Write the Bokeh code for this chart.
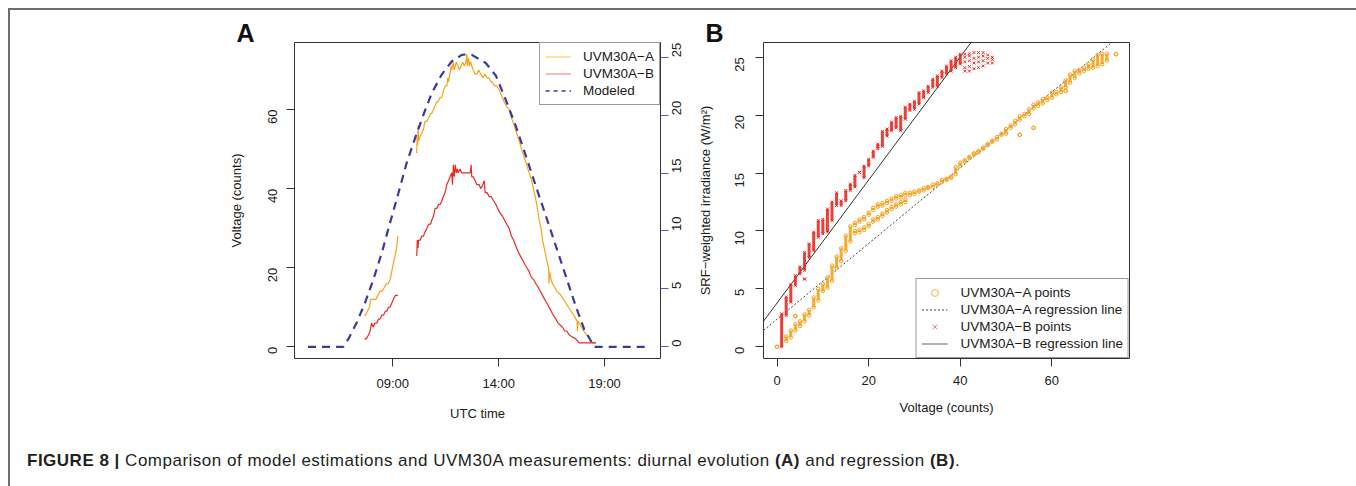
import math
import numpy as np
from bokeh.plotting import figure
from bokeh.models import Range1d, LinearAxis, FixedTicker, Legend, LegendItem, Div, Title
from bokeh.layouts import row, column
from bokeh.embed import file_html
from bokeh.resources import INLINE

FONT = "Liberation Sans"

# ---------------- Panel A data (UTC decimal hours, counts / W m-2) ----------------
a1_t = [7.66, 7.72, 7.80, 7.90, 7.96, 8.08, 8.20, 8.30, 8.40, 8.48, 8.60, 8.70, 8.79, 8.88, 8.95, 9.02, 9.11, 9.18, 9.24]
a1_v = [8, 8, 9, 10, 12, 12, 12, 13, 14, 14, 15, 16, 16, 17, 19, 21, 23, 25, 28]
a2_t = [10.13, 10.15, 10.17, 10.20, 10.22, 10.28, 10.37, 10.45, 10.52, 10.61, 10.70, 10.78, 10.84, 10.92, 11.00,
        11.08, 11.15, 11.22, 11.31, 11.40, 11.48, 11.55, 11.60, 11.63, 11.70, 11.75, 11.79, 11.85, 11.90, 11.95,
        12.00, 12.08, 12.15, 12.22, 12.30, 12.38, 12.45, 12.50, 12.52, 12.58, 12.62, 12.68, 12.73, 12.80, 12.88,
        12.97, 13.05, 13.15, 13.25, 13.35, 13.45, 13.55, 13.62, 13.70, 13.80, 13.90, 14.02, 14.10, 14.18, 14.26,
        14.35, 14.49, 14.60, 14.73, 14.85, 14.97, 15.08, 15.20, 15.32, 15.44, 15.56, 15.68, 15.80, 15.91, 16.00,
        16.07, 16.15, 16.23, 16.30, 16.36, 16.38, 16.40, 16.47, 16.54, 16.65, 16.75, 16.86, 17.00, 17.17, 17.30,
        17.48, 17.60, 17.70, 17.72, 17.74, 17.85, 17.96, 18.08, 18.19, 18.30, 18.43, 18.59]
a2_v = [49, 53, 51, 56, 52, 53, 54, 55, 57, 57, 58, 59, 59, 60, 61,
        62, 62, 63, 63, 65, 66, 66, 68, 67, 69, 71, 70, 72, 70, 71,
        72, 71, 70, 71, 72, 71, 72, 74, 71, 73, 71, 72, 71, 70, 69,
        69, 70, 69, 68, 69, 68, 68, 67, 67, 66, 66, 65, 64, 63, 62,
        61, 60, 58, 56, 54, 52, 50, 48, 46, 44, 42, 39, 36, 32, 30,
        27, 25, 23, 21, 20, 16, 19, 17, 16, 15, 14, 13.5, 12.5, 11, 10,
        8.5, 7.5, 6.5, 4, 6.5, 5.5, 4.5, 3.5, 2.8, 2, 1, 1]

b1_t = [7.66, 7.75, 7.85, 7.93, 8.00, 8.08, 8.15, 8.25, 8.32, 8.40, 8.48, 8.56, 8.65, 8.72, 8.79, 8.87, 8.95, 9.03, 9.12, 9.24]
b1_v = [2, 2, 3, 4, 6, 5, 6, 6, 7, 7, 8, 8, 9, 9, 10, 10, 11, 12, 13, 13]
b2_t = [10.13, 10.16, 10.19, 10.22, 10.30, 10.37, 10.45, 10.52, 10.61, 10.70, 10.78, 10.84, 10.92, 11.00, 11.08,
        11.16, 11.24, 11.32, 11.39, 11.47, 11.55, 11.63, 11.71, 11.78, 11.82, 11.86, 11.90, 11.95, 12.00, 12.05,
        12.10, 12.18, 12.25, 12.34, 12.42, 12.50, 12.58, 12.66, 12.70, 12.73, 12.80, 12.89, 12.97, 13.08, 13.15,
        13.25, 13.32, 13.36, 13.45, 13.55, 13.65, 13.75, 13.87, 13.95, 14.05, 14.18, 14.28, 14.38, 14.49, 14.60,
        14.70, 14.81, 14.92, 15.02, 15.12, 15.22, 15.33, 15.44, 15.55, 15.65, 15.75, 15.87, 15.97, 16.07, 16.17,
        16.28, 16.38, 16.48, 16.58, 16.70, 16.80, 16.90, 17.01, 17.12, 17.22, 17.33, 17.48, 17.64, 17.80, 18.10,
        18.43, 18.59]
b2_v = [23, 27, 25, 27, 27, 28, 28, 29, 30, 31, 31, 32, 33, 35, 35,
        36, 36, 37, 38, 39, 41, 42, 43, 44, 41, 46, 43, 46, 44, 45,
        44, 45, 44, 44, 44, 44, 44, 44, 46, 43, 43, 42, 41, 41, 40,
        41, 42, 39, 39, 38, 38, 37, 36, 35, 34, 33, 32, 31, 30, 28,
        27, 25.5, 24, 23, 22, 21, 20, 19, 17.5, 17, 16, 15, 14, 13, 12,
        11, 10, 9, 8, 7, 6, 5.5, 5, 4, 4, 3, 2.5, 2, 1, 1,
        1, 1]

mod_t = [5.0, 6.67, 6.9, 7.3, 7.69, 8.08, 8.48, 8.87, 9.27, 9.66, 10.05, 10.45, 10.84, 11.31, 11.79, 12.26,
         12.55, 12.73, 13.39, 13.87, 14.34, 14.81, 15.28, 15.75, 16.23, 16.7, 17.17, 17.64, 18.04, 18.51, 21.0]
mod_w = [0, 0, 0.66, 2.1, 3.8, 5.8, 8.1, 10.7, 13.3, 15.9, 18.0, 20.05, 21.9, 23.5, 24.65, 25.2,
         25.26, 25.2, 24.5, 23.4, 21.3, 19.05, 16.5, 13.9, 11.3, 8.7, 6.1, 3.5, 1.5, 0, 0]

time_ticks = [9, 14, 19]
time_labels = ["09:00", "14:00", "19:00"]

# ---------------- Panel B data (count strips: x, low y, high y) ----------------
sa_x = [0, 2, 3, 4, 4, 5, 6, 7, 8, 9, 10, 11, 12, 13, 14, 15, 16,
        17, 18, 19, 20, 21, 22, 23, 24, 25, 26, 27, 28,
        17, 18, 19, 20, 21, 22, 23, 24, 25, 26, 27, 28,
        29, 30, 31, 32, 33, 34, 35, 36, 37, 38, 39, 40, 41, 42, 43, 44, 45, 46, 47, 48, 49, 50,
        51, 52, 53, 53, 54, 55, 56, 56, 57, 58, 59, 60, 61, 62, 63, 63, 64, 65, 66, 67, 68, 69,
        70, 71, 72, 74]
sa_lo = [0, 0.5, 0.8, 1.4, 2.65, 1.8, 2.2, 2.7, 3.4, 4.0, 4.8, 5.1, 5.7, 6.8, 7.4, 8.3, 9.1,
         10.5, 10.8, 11.0, 11.4, 11.8, 12.1, 12.2, 12.4, 12.6, 12.8, 12.9, 13.1,
         9.8, 9.9, 10.1, 10.4, 10.8, 11.0, 11.3, 11.6, 11.9, 12.1, 12.3, 12.5,
         13.1, 13.2, 13.4, 13.5, 13.7, 13.8, 14.0, 14.2, 14.4, 14.6, 14.9, 15.6, 16.0, 16.3, 16.6, 16.8, 17.1,
         17.4, 17.7, 17.9, 18.3, 18.4,
         18.9, 19.2, 19.6, 18.3, 19.9, 20.1, 20.6, 18.9, 20.8, 21.0, 21.3, 21.5, 21.8, 22.0, 22.4, 22.1, 22.8,
         23.2, 23.6, 23.8, 24.0, 24.1, 24.25, 24.4, 24.7, 25.26]
sa_hi = [0, 0.9, 1.4, 1.95, 2.65, 2.2, 2.8, 3.2, 4.25, 5.0, 5.4, 6.0, 7.0, 7.8, 8.5, 9.6, 10.4,
         10.7, 11.0, 11.2, 11.6, 12.0, 12.3, 12.4, 12.6, 12.8, 13.0, 13.1, 13.3,
         10.0, 10.1, 10.3, 10.6, 11.0, 11.2, 11.5, 11.8, 12.1, 12.3, 12.5, 12.7,
         13.3, 13.4, 13.5, 13.7, 13.8, 14.0, 14.1, 14.4, 14.5, 14.7, 15.5, 15.9, 16.1, 16.4, 16.7, 16.9, 17.2,
         17.5, 17.8, 18.1, 18.4, 18.8,
         19.1, 19.5, 19.9, 18.3, 20.1, 20.5, 20.9, 18.9, 21.1, 21.4, 21.5, 21.95, 22.0, 22.4, 23.0, 22.1, 23.5,
         23.8, 23.9, 24.1, 24.4, 24.8, 25.2, 25.3, 25.3, 25.26]

sb_x = [1, 2, 3, 4, 5, 6, 6, 7, 8, 9, 10, 11, 12, 13, 14, 15, 16, 17, 18, 19, 20,
        21, 22, 23, 24, 25, 26, 27, 28, 29, 30, 31, 32, 33, 34, 35, 36, 37, 38, 39, 40]
sb_lo = [0, 2.7, 3.85, 5.3, 6.3, 6.6, 5.85, 7.7, 8.3, 9.45, 9.75, 9.9, 10.9, 12.2, 12.2, 12.6, 13.5, 13.8, 15.06,
         14.6, 15.6, 16.35, 17.1, 17.3, 18.2, 18.65, 18.9, 18.65, 19.65, 20.4, 20.5, 20.95, 21.5, 21.95, 22.4,
         22.5, 23.25, 23.55, 23.8, 24.1, 24.4]
sb_hi = [2.85, 4.3, 5.4, 6.15, 6.9, 8.15, 5.85, 8.9, 9.9, 10.9, 11.0, 11.9, 12.5, 13.3, 12.6, 13.5, 14.05, 14.8,
         15.06, 15.6, 16.2, 16.9, 17.5, 18.6, 18.8, 19.4, 19.8, 19.9, 20.7, 20.95, 21.2, 21.95, 22.1, 22.5, 23.1,
         23.4, 23.8, 24.25, 24.7, 25.0, 25.26]
# sparse B points above 40 counts
pb_x = [41, 41, 41, 41, 41, 42, 42, 42, 42, 42, 43, 43, 43, 43, 44, 44, 44, 44, 45, 45, 45, 45, 46, 46, 46, 47, 47, 47]
pb_y = [23.8, 24.1, 24.6, 25.0, 25.26, 23.8, 24.2, 24.7, 25.1, 25.3, 24.0, 24.5, 24.9, 25.4, 24.1, 24.6, 25.0, 25.4,
        24.25, 24.7, 25.1, 25.4, 24.5, 24.9, 25.2, 24.5, 24.8, 25.0]

reg_a = (2.38, 0.327)   # intercept, slope
reg_b = (3.78, 0.531)

C_ORANGE = "#f9a11b"
C_RED = "#ea2a22"
C_NAVY = "#3a3a9c"
C_FRAME = "#333333"
NAN = [float("nan")]


def style_axis(ax, parallel=False):
    ax.major_label_text_font = FONT
    ax.major_label_text_font_size = "13px"
    ax.major_label_text_color = "#1a1a1a"
    ax.axis_label_text_font = FONT
    ax.axis_label_text_font_size = "13px"
    ax.axis_label_text_font_style = "normal"
    ax.axis_label_text_color = "#1a1a1a"
    ax.major_tick_out = 8
    ax.major_tick_in = 0
    ax.minor_tick_out = 0
    ax.minor_tick_in = 0
    ax.major_tick_line_color = C_FRAME
    ax.axis_line_color = None
    if parallel:
        ax.major_label_orientation = math.pi / 2


def base_fig(xr, yr, mbl, mbr, letter):
    p = figure(frame_width=366, frame_height=316, x_range=xr, y_range=yr,
               min_border_left=mbl, min_border_right=mbr, min_border_top=32, min_border_bottom=62,
               toolbar_location=None, output_backend="svg", background_fill_color="white",
               border_fill_color="white",
               title=Title(text=letter, align="left", offset=-58, standoff=-9,
                           text_font=FONT, text_font_size="25px", text_font_style="bold",
                           text_color="#111111"))
    p.grid.visible = False
    p.outline_line_color = C_FRAME
    p.outline_line_width = 1
    return p


def style_legend(lg, glyph_w, standoff):
    lg.margin = 0
    lg.padding = 5
    lg.spacing = 0
    lg.label_height = 17
    lg.glyph_height = 17
    lg.glyph_width = glyph_w
    lg.label_standoff = standoff
    lg.label_text_font = FONT
    lg.label_text_font_size = "13.5px"
    lg.label_text_color = "#1a1a1a"
    lg.border_line_color = C_FRAME
    lg.border_line_width = 1
    lg.background_fill_alpha = 1


# ---------------- Panel A ----------------
pa = base_fig(Range1d(4.36, 21.64), Range1d(-2.96, 76.96), 284, 34, "A")
pa.extra_y_ranges = {"irr": Range1d(-1.01, 26.27)}
pa.xaxis.ticker = FixedTicker(ticks=time_ticks)
pa.xaxis.major_label_overrides = dict(zip(time_ticks, time_labels))
pa.xaxis.axis_label = "UTC time"
pa.yaxis.ticker = FixedTicker(ticks=[0, 20, 40, 60])
pa.yaxis.axis_label = "Voltage (counts)"
style_axis(pa.xaxis[0])
style_axis(pa.yaxis[0], parallel=True)
pa.xaxis.major_label_standoff = 9
pa.xaxis.axis_label_standoff = 12
pa.yaxis.major_label_standoff = 14
pa.yaxis.axis_label_standoff = 17

ax_r = LinearAxis(y_range_name="irr", ticker=FixedTicker(ticks=[0, 5, 10, 15, 20, 25]))
style_axis(ax_r, parallel=True)
ax_r.major_tick_line_color = "#5a5aa6"
ax_r.major_label_standoff = 8
pa.add_layout(ax_r, "right")

pa.line(a1_t, a1_v, line_color=C_ORANGE, line_width=1.2)
pa.line(a2_t, a2_v, line_color=C_ORANGE, line_width=1.2)
pa.line(b1_t, b1_v, line_color=C_RED, line_width=1.2)
pa.line(b2_t, b2_v, line_color=C_RED, line_width=1.2)
pa.line(mod_t, mod_w, y_range_name="irr", line_color=C_NAVY, line_width=2.2, line_dash="8 6")

la1 = pa.line(NAN, NAN, line_color="#ffc870", line_width=1.2)
la2 = pa.line(NAN, NAN, line_color="#f38f8b", line_width=1.2)
la3 = pa.line(NAN, NAN, line_color=C_NAVY, line_width=1.5, line_dash="4 4")
leg_a = Legend(items=[LegendItem(label="UVM30A\u2212A", renderers=[la1]),
                      LegendItem(label="UVM30A\u2212B", renderers=[la2]),
                      LegendItem(label="Modeled", renderers=[la3])],
               location="top_right")
style_legend(leg_a, 26, 12)
pa.add_layout(leg_a)

# ---------------- Panel B ----------------
pb = base_fig(Range1d(-2.96, 76.96), Range1d(-1.01, 26.27), 67, 223, "B")
pb.xaxis.ticker = FixedTicker(ticks=[0, 20, 40, 60])
pb.xaxis.axis_label = "Voltage (counts)"
pb.yaxis.ticker = FixedTicker(ticks=[0, 5, 10, 15, 20, 25])
pb.yaxis.axis_label = "SRF\u2212weighted irradiance (W/m\u00b2)"
style_axis(pb.xaxis[0])
style_axis(pb.yaxis[0], parallel=True)
pb.xaxis.major_label_standoff = 9
pb.xaxis.axis_label_standoff = 12
pb.yaxis.major_label_standoff = 16
pb.yaxis.axis_label_standoff = 15

xs = np.array([-2.96, 76.96])
pb.line(xs, reg_a[0] + reg_a[1] * xs, line_color="#444444", line_width=1, line_dash="2 2")
pb.line(xs, reg_b[0] + reg_b[1] * xs, line_color="#333333", line_width=1)

pb.segment(sa_x, sa_lo, sa_x, sa_hi, line_color=C_ORANGE, line_width=3, line_alpha=0.9)
pb.scatter(sa_x, sa_lo, marker="circle", size=3.5, line_color=C_ORANGE, fill_color=None, line_width=1)
pb.scatter(sa_x, sa_hi, marker="circle", size=3.5, line_color=C_ORANGE, fill_color=None, line_width=1)
pb.segment(sb_x, sb_lo, sb_x, sb_hi, line_color=C_RED, line_width=3, line_alpha=0.9)
pb.scatter(sb_x, sb_lo, marker="x", size=4, line_color=C_RED, line_width=1)
pb.scatter(sb_x, sb_hi, marker="x", size=4, line_color=C_RED, line_width=1)
pb.scatter(pb_x, pb_y, marker="x", size=4, line_color=C_RED, line_width=1)

lb1 = pb.scatter(NAN, NAN, marker="circle", line_color="#f7b04a", fill_color=None, line_width=1)
lb2 = pb.line(NAN, NAN, line_color="#444444", line_width=1, line_dash="2 2")
lb3 = pb.scatter(NAN, NAN, marker="x", line_color="#f08080", line_width=1)
lb4 = pb.line(NAN, NAN, line_color="#b0b0b0", line_width=2)
leg_b = Legend(items=[LegendItem(label="UVM30A\u2212A points", renderers=[lb1]),
                      LegendItem(label="UVM30A\u2212A regression line", renderers=[lb2]),
                      LegendItem(label="UVM30A\u2212B points", renderers=[lb3]),
                      LegendItem(label="UVM30A\u2212B regression line", renderers=[lb4])],
               location="bottom_right")
style_legend(leg_b, 26, 13)
pb.add_layout(leg_b)

caption = Div(
    text=('<div style="font-family:\'Liberation Sans\', Arial, sans-serif; font-size:17px; letter-spacing:0.5px; '
          'color:#231f20; padding-left:12px; padding-top:21px; white-space:nowrap;">'
          '<b>FIGURE 8 |</b> Comparison of model estimations and UVM30A measurements: diurnal evolution '
          '<b>(A)</b> and regression <b>(B)</b>.</div>'),
    width=1340, height=56)

layout = column(row(pa, pb), caption,
                styles={"margin-left": "8px", "margin-top": "8px",
                        "border-top": "2px solid #6e6e6e", "border-left": "2px solid #6e6e6e",
                        "border-right": "2px solid #6e6e6e"})

open("out.html", "w").write(file_html(layout, INLINE))
